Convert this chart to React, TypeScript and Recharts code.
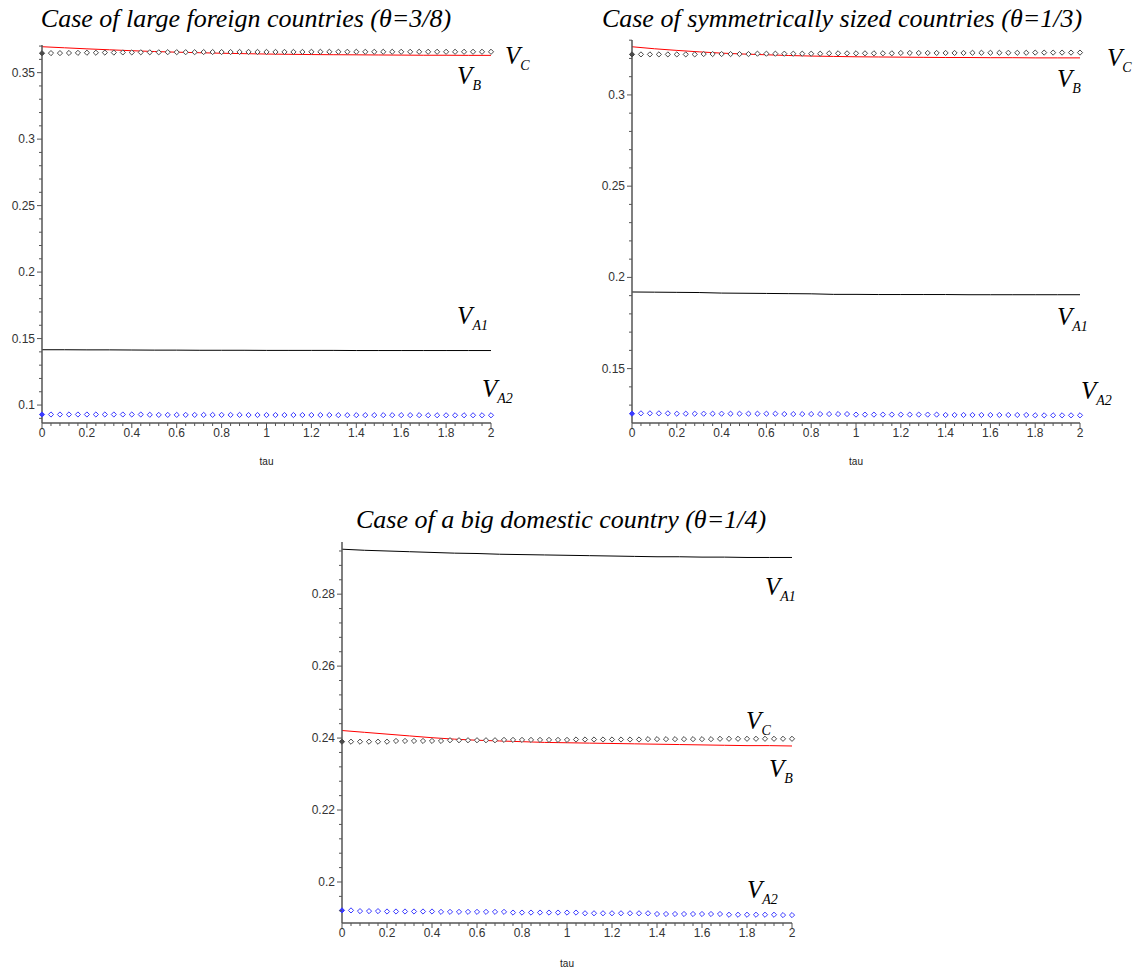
import React from 'react'
import { ComposedChart, Line, XAxis, YAxis, ReferenceDot } from 'recharts'

// tau grid of the diamond markers and of the solid curves
const tauDots = [
  0, 0.04, 0.08, 0.12, 0.16, 0.2, 0.24, 0.28, 0.32, 0.36, 0.4, 0.44, 0.48, 0.52, 0.56, 0.6, 0.64,
  0.68, 0.72, 0.76, 0.8, 0.84, 0.88, 0.92, 0.96, 1, 1.04, 1.08, 1.12, 1.16, 1.2, 1.24, 1.28, 1.32,
  1.36, 1.4, 1.44, 1.48, 1.52, 1.56, 1.6, 1.64, 1.68, 1.72, 1.76, 1.8, 1.84, 1.88, 1.92, 1.96, 2,
]
const tauLine = [0, 0.1, 0.2, 0.3, 0.4, 0.5, 0.6, 0.7, 0.8, 0.9, 1, 1.1, 1.2, 1.3, 1.4, 1.5, 1.6, 1.7, 1.8, 1.9, 2]
const xMajor = [0, 0.2, 0.4, 0.6, 0.8, 1, 1.2, 1.4, 1.6, 1.8, 2]

// theta = 3/8
const vB1 = [0.3695, 0.3687, 0.3679, 0.3672, 0.3665, 0.3659, 0.3654, 0.365, 0.3646, 0.3643, 0.364, 0.3638, 0.3636, 0.3635, 0.3634, 0.3633, 0.3632, 0.3631, 0.3631, 0.363, 0.363]
const vA1_1 = [0.1416, 0.1416, 0.1415, 0.1415, 0.1414, 0.1413, 0.1413, 0.1412, 0.1412, 0.1412, 0.1411, 0.1411, 0.1411, 0.1411, 0.141, 0.141, 0.141, 0.141, 0.141, 0.141, 0.141]
const vC1 = [
  0.3646, 0.3647, 0.3647, 0.3648, 0.3649, 0.365, 0.365, 0.3651, 0.3651, 0.3652, 0.3652, 0.3653, 0.3653,
  0.3653, 0.3654, 0.3654, 0.3654, 0.3654, 0.3655, 0.3655, 0.3655, 0.3655, 0.3656, 0.3656, 0.3656, 0.3656,
  0.3656, 0.3656, 0.3656, 0.3656, 0.3657, 0.3657, 0.3657, 0.3657, 0.3657, 0.3657, 0.3657, 0.3657, 0.3657,
  0.3657, 0.3657, 0.3657, 0.3657, 0.3657, 0.3657, 0.3657, 0.3657, 0.3657, 0.3657, 0.3657, 0.3657,
]
const vA2_1 = [
  0.0929, 0.0929, 0.0929, 0.0929, 0.0929, 0.0929, 0.0929, 0.0929, 0.0929, 0.0929, 0.0929, 0.0929, 0.0927,
  0.0926, 0.0926, 0.0926, 0.0926, 0.0926, 0.0926, 0.0926, 0.0926, 0.0926, 0.0926, 0.0925, 0.0925, 0.0925,
  0.0925, 0.0925, 0.0925, 0.0925, 0.0925, 0.0925, 0.0925, 0.0924, 0.0924, 0.0924, 0.0924, 0.0924, 0.0924,
  0.0924, 0.0924, 0.0924, 0.0924, 0.0923, 0.0923, 0.0923, 0.0923, 0.0923, 0.0923, 0.0923, 0.0923,
]

// theta = 1/3
const vB2 = [0.3264, 0.3253, 0.3244, 0.3236, 0.3229, 0.3224, 0.322, 0.3216, 0.3213, 0.3211, 0.3209, 0.3208, 0.3207, 0.3206, 0.3205, 0.3205, 0.3204, 0.3204, 0.3203, 0.3203, 0.3203]
const vA1_2 = [0.192, 0.1919, 0.1918, 0.1917, 0.1914, 0.1913, 0.1912, 0.1911, 0.191, 0.1907, 0.1907, 0.1906, 0.1906, 0.1906, 0.1906, 0.1905, 0.1905, 0.1905, 0.1905, 0.1905, 0.1905]
const vC2 = [
  0.3222, 0.3222, 0.3222, 0.3222, 0.3222, 0.3222, 0.3222, 0.3222, 0.3224, 0.3224, 0.3224, 0.3224, 0.3224,
  0.3224, 0.3226, 0.3226, 0.3226, 0.3226, 0.3226, 0.3226, 0.3226, 0.3226, 0.3228, 0.3228, 0.3228, 0.3228,
  0.3228, 0.3228, 0.3228, 0.3228, 0.323, 0.323, 0.323, 0.323, 0.323, 0.323, 0.323, 0.323, 0.3231,
  0.3231, 0.3231, 0.3231, 0.3231, 0.3231, 0.3231, 0.3232, 0.3232, 0.3232, 0.3232, 0.3232, 0.3232,
]
const vA2_2 = [
  0.1253, 0.1255, 0.1255, 0.1255, 0.1255, 0.1253, 0.1253, 0.1253, 0.1253, 0.1253, 0.1253, 0.1253, 0.1253,
  0.1253, 0.1253, 0.1253, 0.1253, 0.1251, 0.1251, 0.1251, 0.1251, 0.1251, 0.1251, 0.1251, 0.1251, 0.1248,
  0.1248, 0.1248, 0.1248, 0.1248, 0.1248, 0.1248, 0.1248, 0.1248, 0.1248, 0.1246, 0.1246, 0.1246, 0.1246,
  0.1246, 0.1246, 0.1246, 0.1246, 0.1246, 0.1246, 0.1244, 0.1244, 0.1244, 0.1244, 0.1244, 0.1244,
]

// theta = 1/4
const vA1_3 = [0.2925, 0.2922, 0.292, 0.2918, 0.2916, 0.2914, 0.2913, 0.2911, 0.291, 0.2909, 0.2908, 0.2907, 0.2906, 0.2905, 0.2904, 0.2904, 0.2903, 0.2903, 0.2902, 0.2902, 0.2902]
const vB3 = [0.2421, 0.2416, 0.2411, 0.2406, 0.2401, 0.2397, 0.2394, 0.2392, 0.239, 0.2388, 0.2387, 0.2386, 0.2385, 0.2384, 0.2383, 0.2382, 0.2381, 0.238, 0.2379, 0.2379, 0.2378]
const vC3 = [
  0.239, 0.239, 0.239, 0.239, 0.239, 0.239, 0.2392, 0.2392, 0.2392, 0.2392, 0.2392, 0.2392, 0.2394,
  0.2394, 0.2394, 0.2394, 0.2394, 0.2394, 0.2395, 0.2395, 0.2395, 0.2395, 0.2395, 0.2395, 0.2395, 0.2395,
  0.2396, 0.2396, 0.2396, 0.2396, 0.2396, 0.2396, 0.2396, 0.2396, 0.2397, 0.2397, 0.2397, 0.2397, 0.2397,
  0.2397, 0.2397, 0.2397, 0.2398, 0.2398, 0.2398, 0.2398, 0.2398, 0.2398, 0.2398, 0.2398, 0.2398,
]
const vA2_3 = [
  0.1921, 0.1921, 0.1919, 0.1919, 0.1919, 0.1918, 0.1918, 0.1918, 0.1918, 0.1918, 0.1918, 0.1917, 0.1917,
  0.1917, 0.1917, 0.1917, 0.1917, 0.1917, 0.1917, 0.1915, 0.1915, 0.1915, 0.1915, 0.1915, 0.1915, 0.1915,
  0.1915, 0.1913, 0.1913, 0.1913, 0.1913, 0.1913, 0.1913, 0.1913, 0.1913, 0.1911, 0.1911, 0.1911, 0.1911,
  0.1911, 0.1911, 0.1911, 0.1911, 0.1909, 0.1909, 0.1909, 0.1909, 0.1909, 0.1909, 0.1908, 0.1908,
]

// y ticks (every tick mark) and the labelled ones
const yTicks1 = [0.09, 0.1, 0.11, 0.12, 0.13, 0.14, 0.15, 0.16, 0.17, 0.18, 0.19, 0.2, 0.21, 0.22, 0.23, 0.24, 0.25, 0.26, 0.27, 0.28, 0.29, 0.3, 0.31, 0.32, 0.33, 0.34, 0.35, 0.36, 0.37]
const yMajor1 = [0.1, 0.15, 0.2, 0.25, 0.3, 0.35]
const yTicks2 = [0.13, 0.14, 0.15, 0.16, 0.17, 0.18, 0.19, 0.2, 0.21, 0.22, 0.23, 0.24, 0.25, 0.26, 0.27, 0.28, 0.29, 0.3, 0.31, 0.32, 0.33]
const yMajor2 = [0.15, 0.2, 0.25, 0.3]
const yTicks3 = [0.192, 0.196, 0.2, 0.204, 0.208, 0.212, 0.216, 0.22, 0.224, 0.228, 0.232, 0.236, 0.24, 0.244, 0.248, 0.252, 0.256, 0.26, 0.264, 0.268, 0.272, 0.276, 0.28, 0.284, 0.288, 0.292]
const yMajor3 = [0.2, 0.22, 0.24, 0.26, 0.28]

const titles = [
  'Case of large foreign countries (\u03b8=3/8)',
  'Case of symmetrically sized countries (\u03b8=1/3)',
  'Case of a big domestic country (\u03b8=1/4)',
]

// curve names and where they sit (tau, value)
const labels1 = [
  { sub: 'C', tau: 2.062, val: 0.3567 },
  { sub: 'B', tau: 1.849, val: 0.3412 },
  { sub: 'A1', tau: 1.849, val: 0.1611 },
  { sub: 'A2', tau: 1.96, val: 0.106 },
]
const labels2 = [
  { sub: 'C', tau: 2.12, val: 0.3159 },
  { sub: 'B', tau: 1.897, val: 0.3044 },
  { sub: 'A1', tau: 1.897, val: 0.1741 },
  { sub: 'A2', tau: 2.004, val: 0.1333 },
]
const labels3 = [
  { sub: 'A1', tau: 1.88, val: 0.2798 },
  { sub: 'C', tau: 1.796, val: 0.2426 },
  { sub: 'B', tau: 1.898, val: 0.2292 },
  { sub: 'A2', tau: 1.8, val: 0.1956 },
]

const AXIS = '#555'
const isMajor = (list: number[], v: number) => list.some((m) => Math.abs(m - v) < 1e-6)

function YTick(props: any) {
  const { x, y, payload, majors } = props
  const major = isMajor(majors, payload.value)
  return (
    <g>
      <line x1={x - (major ? 5 : 3)} x2={x} y1={y} y2={y} stroke={AXIS} />
      {major && (
        <text x={x - 7} y={y + 4} textAnchor="end" fontSize={12} fill="#333" fontFamily="Liberation Sans">
          {String(payload.value)}
        </text>
      )}
    </g>
  )
}

function XTick(props: any) {
  const { x, y, payload } = props
  const major = isMajor(xMajor, payload.value)
  return (
    <g>
      <line x1={x} x2={x} y1={y} y2={y + (major ? 5 : 3)} stroke={AXIS} />
      {major && (
        <text x={x} y={y + 14} textAnchor="middle" fontSize={12} fill="#333" fontFamily="Liberation Sans">
          {String(payload.value)}
        </text>
      )}
    </g>
  )
}

const diamond = (color: string) => (p: any) => {
  const { cx, cy, index } = p
  if (cx == null || cy == null) return <g key={index} />
  const s = 2.6
  return (
    <polygon
      key={index}
      points={`${cx},${cy - s} ${cx + s},${cy} ${cx},${cy + s} ${cx - s},${cy}`}
      fill={index === 0 ? color : '#fff'}
      stroke={color}
      strokeWidth={1}
    />
  )
}

function VLabel({ cx, cy, sub }: any) {
  return (
    <text x={cx} y={cy} fontFamily="Liberation Serif" fontStyle="italic" fontSize={25} fill="#000">
      V
      <tspan fontSize={14} dy={6}>
        {sub}
      </tspan>
    </text>
  )
}

const rows = (xs: number[], vs: number[]) => xs.map((t, i) => ({ tau: t, v: vs[i] }))

interface PanelProps {
  left: number
  top: number
  width: number
  height: number
  marginTop: number
  marginRight: number
  xAxisHeight: number
  tauOffset: number
  yDomain: [number, number]
  yTicks: number[]
  yMajor: number[]
  b: number[]
  a1: number[]
  c: number[]
  a2: number[]
  labels: { sub: string; tau: number; val: number }[]
}

function Panel(p: PanelProps) {
  return (
    <div style={{ position: 'absolute', left: p.left, top: p.top }}>
      <ComposedChart
        width={p.width}
        height={p.height}
        margin={{ top: p.marginTop, right: p.marginRight, bottom: 0, left: 0 }}
      >
        <XAxis
          dataKey="tau"
          type="number"
          domain={[0, 2]}
          ticks={tauDots}
          interval={0}
          tickSize={0}
          tickMargin={0}
          tick={<XTick />}
          height={p.xAxisHeight}
          axisLine={{ stroke: AXIS, strokeWidth: 1.5 }}
          allowDuplicatedCategory={false}
          label={{ value: 'tau', position: 'insideBottom', offset: p.tauOffset, fontSize: 10, fill: '#222', fontFamily: 'Liberation Sans' }}
        />
        <YAxis
          type="number"
          domain={p.yDomain}
          ticks={p.yTicks}
          interval={0}
          width={42}
          tickSize={0}
          tickMargin={0}
          tick={<YTick majors={p.yMajor} />}
          axisLine={{ stroke: AXIS, strokeWidth: 1.5 }}
          allowDataOverflow
        />
        <Line data={rows(tauLine, p.a1)} dataKey="v" stroke="#000" strokeWidth={1} dot={false} type="linear" isAnimationActive={false} />
        <Line data={rows(tauLine, p.b)} dataKey="v" stroke="#ff0000" strokeWidth={1} dot={false} type="linear" isAnimationActive={false} />
        <Line data={rows(tauDots, p.c)} dataKey="v" stroke="none" dot={diamond('#4a4a4a')} type="linear" isAnimationActive={false} />
        <Line data={rows(tauDots, p.a2)} dataKey="v" stroke="none" dot={diamond('#3a3aff')} type="linear" isAnimationActive={false} />
        {p.labels.map((l) => (
          <ReferenceDot
            key={l.sub}
            x={l.tau}
            y={l.val}
            r={1}
            ifOverflow="visible"
            shape={(s: any) => <VLabel cx={s.cx} cy={s.cy} sub={l.sub} />}
          />
        ))}
      </ComposedChart>
    </div>
  )
}

function Title({ text, center, baseline }: { text: string; center: number; baseline: number }) {
  return (
    <div
      style={{
        position: 'absolute',
        left: center - 300,
        top: baseline - 21,
        width: 600,
        textAlign: 'center',
        fontFamily: 'Liberation Serif',
        fontStyle: 'italic',
        fontSize: 26,
        lineHeight: '26px',
        color: '#000',
        whiteSpace: 'nowrap',
      }}
    >
      {text}
    </div>
  )
}

export default function App() {
  return (
    <div style={{ position: 'absolute', left: 0, top: 0, width: 1136, height: 971, background: '#fff' }}>
      <Title text={titles[0]} center={246} baseline={27} />
      <Title text={titles[1]} center={842} baseline={27} />
      <Title text={titles[2]} center={561} baseline={528} />
      <Panel
        left={0} top={0} width={560} height={480} marginTop={45} marginRight={69}
        xAxisHeight={57} tauOffset={15} yDomain={[0.0865, 0.3708]} yTicks={yTicks1} yMajor={yMajor1}
        b={vB1} a1={vA1_1} c={vC1} a2={vA2_1} labels={labels1}
      />
      <Panel
        left={590} top={0} width={546} height={480} marginTop={40} marginRight={56}
        xAxisHeight={57} tauOffset={15} yDomain={[0.1202, 0.3301]} yTicks={yTicks2} yMajor={yMajor2}
        b={vB2} a1={vA1_2} c={vC2} a2={vA2_2} labels={labels2}
      />
      <Panel
        left={300} top={500} width={520} height={471} marginTop={42} marginRight={28}
        xAxisHeight={48} tauOffset={4} yDomain={[0.1886, 0.2945]} yTicks={yTicks3} yMajor={yMajor3}
        b={vB3} a1={vA1_3} c={vC3} a2={vA2_3} labels={labels3}
      />
    </div>
  )
}
